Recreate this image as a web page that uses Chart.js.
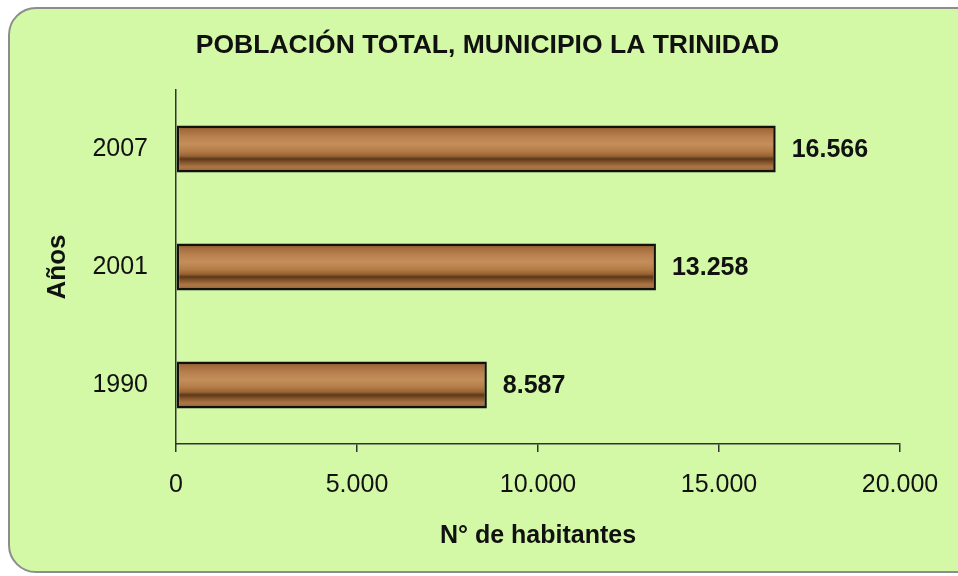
<!DOCTYPE html>
<html>
<head>
<meta charset="utf-8">
<script src="https://cdn.jsdelivr.net/npm/chart.js@4"></script>
<style>
  html, body { margin: 0; padding: 0; background: #fff; }
  body { width: 958px; height: 576px; position: relative; overflow: hidden; }
  .box {
    position: absolute; left: 8px; top: 7px; width: 990px; height: 562px;
    background: #d3f8a6; border: 2px solid #8d8d8d; border-radius: 28px;
  }
  #wrap { position: absolute; left: 0; top: 0; width: 958px; height: 576px; }
</style>
</head>
<body>
<div class="box"></div>
<div id="wrap"><canvas id="poblacionChart"></canvas></div>
<script>
const years = ["2007", "2001", "1990"];
const habitantes = [16566, 13258, 8587];
const xTicks = [0, 5000, 10000, 15000, 20000];

const chartTitle = "POBLACIÓN TOTAL, MUNICIPIO LA TRINIDAD";
const yTitle = "Años";
const xTitle = "N° de habitantes";

const FONT = "'Liberation Sans', Arial, sans-serif";
const INK = "#111";

// 16566 -> "16.566"
const fmt = (v) => String(v).replace(/\B(?=(\d{3})+(?!\d))/g, ".");

// wood look: vertical gradient built around each bar
const woodFill = (ctx) => {
  const chart = ctx.chart;
  const y = chart.scales.y;
  if (!y || y.top == null) return "#a8713f";
  const c = y.getPixelForValue(ctx.dataIndex);
  const h = (y.bottom - y.top) / years.length * 0.4;
  const g = chart.ctx.createLinearGradient(0, c - h / 2, 0, c + h / 2);
  g.addColorStop(0.0, "#7a4c26");
  g.addColorStop(0.1, "#a46c3b");
  g.addColorStop(0.25, "#b98250");
  g.addColorStop(0.4, "#c48e5b");
  g.addColorStop(0.55, "#b37b46");
  g.addColorStop(0.65, "#976233");
  g.addColorStop(0.71, "#5c3717");
  g.addColorStop(0.77, "#7e5029");
  g.addColorStop(0.88, "#ad7844");
  g.addColorStop(1.0, "#8e5c33");
  return g;
};

const valueLabels = {
  id: "valueLabels",
  afterDatasetsDraw(chart) {
    const { ctx } = chart;
    const meta = chart.getDatasetMeta(0);
    ctx.save();
    ctx.font = "bold 25px " + FONT;
    ctx.fillStyle = INK;
    ctx.textAlign = "left";
    ctx.textBaseline = "middle";
    meta.data.forEach((bar, i) => {
      ctx.fillText(fmt(habitantes[i]), bar.x + 16, bar.y + 1);
    });
    ctx.restore();
  },
};

const data = {
  labels: years,
  datasets: [
    {
      data: habitantes,
      backgroundColor: woodFill,
      borderColor: "#111",
      borderWidth: 2.5,
      borderSkipped: false,
      categoryPercentage: 1,
      barPercentage: 0.4,
    },
  ],
};

const options = {
  indexAxis: "y",
  responsive: false,
  animation: false,
  layout: { padding: { left: 17, right: 0, top: 0, bottom: 0 } },
  plugins: {
    legend: { display: false },
    tooltip: { enabled: false },
    title: {
      display: true,
      text: chartTitle,
      color: INK,
      font: { family: FONT, size: 26.5, weight: "bold", lineHeight: 1.2 },
      padding: { top: 29.5, bottom: 28.7 },
    },
  },
  scales: {
    x: {
      min: 0,
      max: 20000,
      afterBuildTicks: (scale) => {
        scale.ticks = xTicks.map((v) => ({ value: v }));
      },
      afterFit: (scale) => {
        scale.height = 132;
        scale.paddingRight = 58;
      },
      grid: {
        drawOnChartArea: false,
        drawTicks: true,
        tickLength: 8,
        color: "#333",
        lineWidth: 1.5,
      },
      border: { display: true, color: "#333", width: 1.5 },
      ticks: {
        padding: 18,
        color: INK,
        font: { family: FONT, size: 25 },
        maxRotation: 0,
        callback: (v) => fmt(v),
      },
      title: {
        display: true,
        text: xTitle,
        color: INK,
        font: { family: FONT, size: 25, weight: "bold", lineHeight: 1.2 },
        padding: { top: 0, bottom: 25 },
      },
    },
    y: {
      afterFit: (scale) => {
        scale.width = 159;
      },
      grid: { display: false, drawTicks: false },
      border: { display: true, color: "#333", width: 1.5 },
      ticks: {
        padding: 28,
        color: INK,
        font: { family: FONT, size: 25 },
      },
      title: {
        display: true,
        text: yTitle,
        color: INK,
        font: { family: FONT, size: 26, weight: "bold", lineHeight: 1.2 },
        padding: { top: 25.4, bottom: 0 },
      },
    },
  },
};

const canvas = document.getElementById("poblacionChart");
canvas.width = 958;
canvas.height = 576;
new Chart(canvas, { type: "bar", data, options, plugins: [valueLabels] });
</script>
</body>
</html>
